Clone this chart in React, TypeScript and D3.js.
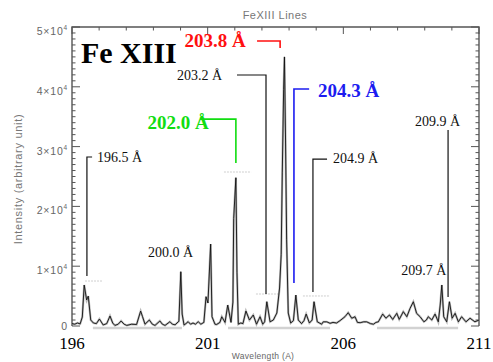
import React from "react";
import * as d3 from "d3";

// spectrum: [wavelength (A), intensity]
const spectrum: [number, number][] = [
  [196.0, 400], [196.1, 300], [196.2, 500], [196.3, 350], [196.38, 1500],
  [196.45, 6850], [196.54, 4350], [196.6, 5000], [196.69, 1000], [196.79, 500],
  [196.9, 400], [197.01, 1170], [197.15, 170], [197.28, 400], [197.4, 1670],
  [197.5, 500], [197.58, 100], [197.7, 300], [197.81, 840], [197.92, 300],
  [198.02, 100], [198.2, 300], [198.38, 250], [198.53, 2500], [198.6, 1550],
  [198.69, 300], [198.85, 1000], [198.96, 300], [199.06, 100], [199.24, 840],
  [199.33, 300], [199.43, 100], [199.61, 720], [199.7, 300], [199.8, 200],
  [199.94, 800], [200.01, 9080], [200.06, 2000], [200.13, 170], [200.2, 400],
  [200.28, 720], [200.37, 300], [200.46, 500], [200.55, 300], [200.65, 720],
  [200.75, 300], [200.86, 600], [200.94, 4900], [201.01, 3840], [201.11, 13700],
  [201.16, 1550], [201.27, 300], [201.33, 250], [201.45, 600], [201.52, 1550],
  [201.64, 600], [201.74, 3500], [201.86, 600], [201.93, 4000], [201.96, 18000],
  [202.04, 24800], [202.08, 9000], [202.13, 300], [202.22, 500], [202.3, 400],
  [202.41, 2500], [202.54, 1000], [202.68, 1840], [202.8, 300], [202.93, 1550],
  [203.03, 300], [203.1, 700], [203.18, 4060], [203.3, 700], [203.42, 1000],
  [203.55, 2170], [203.65, 6350], [203.71, 12000], [203.75, 25600], [203.8, 39500],
  [203.83, 45000], [203.87, 31100], [203.91, 14400], [203.97, 2170], [204.06, 500],
  [204.16, 900], [204.25, 5180], [204.34, 1000], [204.46, 400], [204.55, 900],
  [204.63, 2000], [204.75, 500], [204.85, 1000], [204.92, 4060], [205.04, 700],
  [205.2, 300], [205.26, 700], [205.39, 700], [205.51, 450], [205.62, 600],
  [205.75, 500], [205.88, 900], [206.06, 1550], [206.18, 2230], [206.31, 1300],
  [206.43, 1550], [206.52, 600], [206.62, 550], [206.75, 700], [206.86, 700],
  [207.0, 400], [207.11, 300], [207.2, 600], [207.29, 700], [207.45, 2000],
  [207.57, 1300], [207.7, 1840], [207.82, 1100], [207.97, 2120], [208.06, 1100],
  [208.21, 2400], [208.34, 1550], [208.46, 2950], [208.58, 4060], [208.7, 2120],
  [208.83, 1550], [208.97, 700], [209.06, 1000], [209.13, 1550], [209.26, 1000],
  [209.38, 2000], [209.5, 700], [209.57, 3500], [209.63, 6860], [209.7, 1550],
  [209.81, 700], [209.91, 4060], [210.01, 1300], [210.12, 2120], [210.24, 700],
  [210.36, 1550], [210.52, 700], [210.67, 1300], [210.85, 700], [211.0, 1000],
];

const xTickLabels = [196, 201, 206, 211];
const yTickValues = [0, 10000, 20000, 30000, 40000, 50000];
const yTickMantissa = ["0", "1×10", "2×10", "3×10", "4×10", "5×10"];

// line labels: text anchor and leader path, in data units
const lineLabels = [
  { text: "196.5 Å", color: "#111", bold: false, at: [196.92, 27400], path: [[196.74, 28260], [196.55, 28260], [196.55, 8360]] },
  { text: "200.0 Å", color: "#111", bold: false, at: [198.8, 11500], path: [] },
  { text: "202.0 Å", color: "#11dd11", bold: true, at: [198.78, 32940], path: [[200.72, 34600], [202.04, 34600], [202.04, 27250]] },
  { text: "203.2 Å", color: "#111", bold: false, at: [199.87, 41130], path: [[202.08, 41970], [203.15, 41970], [203.15, 5350]] },
  { text: "203.8 Å", color: "#ff1010", bold: true, at: [200.15, 46650], path: [[202.82, 47650], [203.67, 47650], [203.67, 46480]] },
  { text: "204.3 Å", color: "#1c1cf0", bold: true, at: [205.07, 38290], path: [[204.74, 39630], [204.18, 39630], [204.18, 7190]] },
  { text: "204.9 Å", color: "#111", bold: false, at: [205.62, 27250], path: [[205.4, 27920], [204.88, 27920], [204.88, 5680]] },
  { text: "209.9 Å", color: "#111", bold: false, at: [208.64, 33440], path: [[209.86, 32770], [209.86, 4850]] },
  { text: "209.7 Å", color: "#111", bold: false, at: [208.13, 8530], path: [] },
];

// faint level marks next to the peaks
const levelMarks = [
  { from: 196.48, to: 197.11, level: 7520 },
  { from: 201.6, to: 202.6, level: 25750 },
  { from: 202.78, to: 203.67, level: 5350 },
  { from: 204.51, to: 205.51, level: 5020 },
];

// light grey patches along the bottom axis
const bottomPatches = [
  [196.77, 200.05],
  [201.75, 205.51],
  [207.24, 210.23],
];

const W = 493;
const H = 362;
const margin = { top: 27, right: 14, bottom: 36, left: 72 };

export default function App() {
  const x = d3.scaleLinear().domain([196, 211]).range([margin.left, W - margin.right]);
  const y = d3.scaleLinear().domain([0, 50000]).range([H - margin.bottom, margin.top]);

  const line = d3
    .line<[number, number]>()
    .x((d) => x(d[0]))
    .y((d) => y(d[1]));

  const x0 = x(196);
  const x1 = x(211);
  const yTop = y(50000);
  const yBot = y(0);
  const axisColor = "#555";
  const sans = "Liberation Sans, Arial, sans-serif";
  const serif = "Liberation Serif, Times New Roman, serif";

  const yMinor = d3.range(0, 50001, 1000);
  const xMinor = d3.range(196, 211.01, 1);

  return (
    <svg width={W} height={H} style={{ position: "absolute", left: 0, top: 0, background: "#fff" }}>
      {/* title */}
      <text x={275} y={19} textAnchor="middle" fontFamily={sans} fontSize={11} letterSpacing={0.5} fill="#777">
        FeXIII Lines
      </text>

      {/* frame: top, left, right */}
      <path
        d={`M${x0},${yBot}V${yTop}H${x1}V${yBot}`}
        fill="none"
        stroke={axisColor}
        strokeWidth={1.4}
      />
      {bottomPatches.map((p, i) => (
        <line key={i} x1={x(p[0])} x2={x(p[1])} y1={yBot + 2} y2={yBot + 2} stroke="#d2d2d2" strokeWidth={2.5} />
      ))}

      {/* y ticks on both sides */}
      {yMinor.map((v) => {
        const major = v % 10000 === 0;
        const len = major ? 8 : 3.5;
        return (
          <g key={v} stroke={axisColor} strokeWidth={1}>
            <line x1={x0} x2={x0 + len} y1={y(v)} y2={y(v)} />
            <line x1={x1} x2={x1 - len} y1={y(v)} y2={y(v)} />
          </g>
        );
      })}
      {/* top ticks */}
      {xMinor.map((v) => {
        const major = (v - 196) % 5 === 0;
        return (
          <line key={v} x1={x(v)} x2={x(v)} y1={yTop} y2={yTop + (major ? 7 : 3.5)} stroke={axisColor} strokeWidth={1} />
        );
      })}

      {/* y tick labels */}
      {yTickValues.map((v, i) => (
        <text
          key={v}
          x={x0 - 4}
          y={y(v) + (v === 0 ? 3.5 : 8)}
          textAnchor="end"
          fontFamily={sans}
          fontSize={10.5}
          letterSpacing={0.8}
          fill="#666"
        >
          {yTickMantissa[i]}
          {v !== 0 && (
            <tspan dy={-5} fontSize={6.5}>
              4
            </tspan>
          )}
        </text>
      ))}

      {/* x tick labels */}
      {xTickLabels.map((v) => (
        <text key={v} x={x(v)} y={yBot + 23} textAnchor="middle" fontFamily={serif} fontSize={17} fill="#000">
          {v}
        </text>
      ))}

      {/* axis titles */}
      <text x={263} y={359} textAnchor="middle" fontFamily={sans} fontSize={8.5} letterSpacing={0.3} fill="#666">
        Wavelength (A)
      </text>
      <text
        transform={`translate(22,${179}) rotate(-90)`}
        textAnchor="middle"
        fontFamily={sans}
        fontSize={11}
        letterSpacing={0.7}
        fill="#777"
      >
        Intensity (arbitrary unit)
      </text>

      {/* level marks */}
      {levelMarks.map((m, i) => (
        <line
          key={i}
          x1={x(m.from)}
          x2={x(m.to)}
          y1={y(m.level)}
          y2={y(m.level)}
          stroke="#cfcfcf"
          strokeWidth={1}
          strokeDasharray="2,1"
        />
      ))}

      {/* spectrum */}
      <path d={line(spectrum) || ""} fill="none" stroke="#999" strokeWidth={2.2} strokeOpacity={0.7} />
      <path d={line(spectrum) || ""} fill="none" stroke="#111" strokeWidth={0.9} />

      {/* line labels */}
      {lineLabels.map((l) => (
        <g key={l.text}>
          {l.path.length > 0 && (
            <path
              d={line(l.path as [number, number][]) || ""}
              fill="none"
              stroke={l.color}
              strokeWidth={l.bold ? 1.6 : 1.2}
            />
          )}
          <text
            x={x(l.at[0])}
            y={y(l.at[1])}
            fontFamily={serif}
            fontSize={l.bold ? 19 : 14}
            fontWeight={l.bold ? "bold" : "normal"}
            fill={l.color}
          >
            {l.text}
          </text>
        </g>
      ))}

      {/* element name */}
      <text x={x(196.33)} y={y(43970)} fontFamily={serif} fontSize={30} fontWeight="bold" fill="#000">
        Fe XIII
      </text>
    </svg>
  );
}
